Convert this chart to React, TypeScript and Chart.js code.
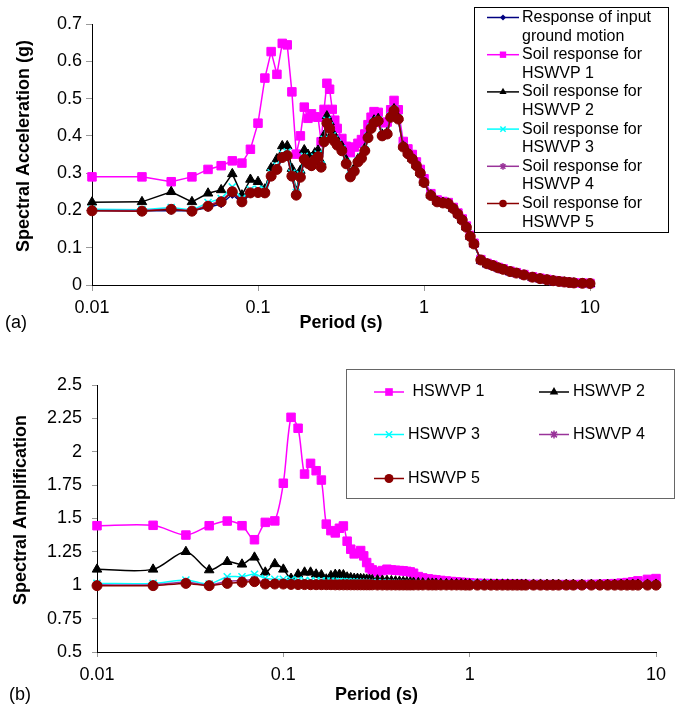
import React, { useEffect, useRef } from 'react';
import { Chart, registerables } from 'chart.js';

Chart.register(...registerables);

const FONT = '"Liberation Sans", Arial, sans-serif';

// ---------- data ----------
const periods = [
  0.01, 0.02, 0.03, 0.04, 0.05, 0.06, 0.07, 0.08, 0.09, 0.1,
  0.11, 0.12, 0.13, 0.14, 0.15, 0.16, 0.17, 0.18, 0.19, 0.2,
  0.21, 0.22, 0.23, 0.24, 0.25, 0.26, 0.27, 0.28, 0.29, 0.3,
  0.32, 0.34, 0.36, 0.38, 0.4, 0.42, 0.44, 0.46, 0.48, 0.5,
  0.53, 0.56, 0.6, 0.63, 0.66, 0.7, 0.75, 0.8, 0.85, 0.9,
  0.95, 1, 1.1, 1.2, 1.3, 1.4, 1.5, 1.6, 1.7, 1.8,
  1.9, 2, 2.2, 2.4, 2.6, 2.8, 3, 3.3, 3.6, 4,
  4.5, 5, 5.5, 6, 6.5, 7, 7.5, 8, 9, 10,
];

// (a) spectral acceleration (g)
const inputMotion = [
  0.2, 0.199, 0.2, 0.199, 0.208, 0.218, 0.243, 0.221, 0.245, 0.246,
  0.245, 0.29, 0.308, 0.34, 0.345, 0.29, 0.24, 0.287, 0.335, 0.324,
  0.318, 0.334, 0.342, 0.314, 0.382, 0.432, 0.418, 0.391, 0.383, 0.373,
  0.358, 0.323, 0.289, 0.303, 0.328, 0.338, 0.358, 0.393, 0.418, 0.433,
  0.438, 0.398, 0.403, 0.448, 0.466, 0.443, 0.368, 0.35, 0.336, 0.318,
  0.298, 0.273, 0.239, 0.222, 0.219, 0.217, 0.204, 0.189, 0.173, 0.154,
  0.129, 0.109, 0.066, 0.056, 0.051, 0.045, 0.041, 0.035, 0.031, 0.026,
  0.02, 0.016, 0.013, 0.011, 0.009, 0.0075, 0.006, 0.005, 0.004, 0.0035,
];
const soilHSWVP1 = [
  0.29, 0.29, 0.277, 0.29, 0.31, 0.32, 0.333, 0.327, 0.364, 0.434,
  0.555, 0.626, 0.565, 0.648, 0.644, 0.518, 0.351, 0.4, 0.477, 0.447,
  0.459, 0.451, 0.45, 0.384, 0.471, 0.541, 0.525, 0.471, 0.442, 0.42,
  0.393, 0.372, 0.355, 0.37, 0.38, 0.39, 0.405, 0.43, 0.45, 0.465,
  0.463, 0.435, 0.437, 0.47, 0.495, 0.47, 0.385, 0.365, 0.35, 0.33,
  0.31, 0.285, 0.245, 0.228, 0.224, 0.221, 0.208, 0.193, 0.177, 0.158,
  0.133, 0.112, 0.068, 0.058, 0.053, 0.047, 0.043, 0.037, 0.033, 0.028,
  0.022, 0.018, 0.015, 0.012, 0.01, 0.0085, 0.007, 0.006, 0.005, 0.0042,
];
const soilHSWVP2 = [
  0.222, 0.223, 0.25, 0.223, 0.246, 0.255, 0.298, 0.241, 0.283, 0.277,
  0.257, 0.314, 0.338, 0.373, 0.373, 0.312, 0.251, 0.307, 0.362, 0.35,
  0.342, 0.354, 0.361, 0.33, 0.401, 0.453, 0.437, 0.408, 0.399, 0.388,
  0.372, 0.335, 0.299, 0.313, 0.338, 0.347, 0.367, 0.402, 0.427, 0.442,
  0.446, 0.404, 0.409, 0.454, 0.472, 0.448, 0.372, 0.354, 0.339, 0.321,
  0.301, 0.275, 0.241, 0.224, 0.221, 0.219, 0.205, 0.19, 0.174, 0.155,
  0.13, 0.11, 0.066, 0.056, 0.051, 0.045, 0.041, 0.035, 0.031, 0.026,
  0.02, 0.016, 0.013, 0.011, 0.009, 0.0075, 0.006, 0.005, 0.004, 0.0035,
];
const soilHSWVP3 = [
  0.203, 0.202, 0.208, 0.201, 0.221, 0.232, 0.263, 0.232, 0.256, 0.257,
  0.255, 0.301, 0.319, 0.352, 0.357, 0.3, 0.248, 0.296, 0.345, 0.333,
  0.327, 0.343, 0.351, 0.322, 0.391, 0.442, 0.427, 0.4, 0.391, 0.38,
  0.365, 0.329, 0.294, 0.308, 0.333, 0.343, 0.363, 0.399, 0.424, 0.439,
  0.443, 0.403, 0.407, 0.453, 0.471, 0.447, 0.372, 0.353, 0.339, 0.321,
  0.3, 0.275, 0.241, 0.224, 0.221, 0.218, 0.205, 0.19, 0.174, 0.155,
  0.13, 0.11, 0.066, 0.056, 0.051, 0.045, 0.041, 0.035, 0.031, 0.026,
  0.02, 0.016, 0.013, 0.011, 0.009, 0.0075, 0.006, 0.005, 0.004, 0.0035,
];
const soilHSWVP4 = [
  0.2, 0.2, 0.204, 0.199, 0.214, 0.226, 0.253, 0.225, 0.249, 0.25,
  0.248, 0.294, 0.312, 0.344, 0.349, 0.293, 0.242, 0.29, 0.338, 0.327,
  0.321, 0.337, 0.345, 0.317, 0.385, 0.435, 0.421, 0.394, 0.386, 0.376,
  0.36, 0.325, 0.291, 0.305, 0.33, 0.34, 0.36, 0.395, 0.42, 0.435,
  0.44, 0.4, 0.405, 0.45, 0.468, 0.445, 0.37, 0.352, 0.338, 0.32,
  0.3, 0.275, 0.24, 0.223, 0.22, 0.218, 0.205, 0.19, 0.174, 0.155,
  0.13, 0.11, 0.067, 0.057, 0.052, 0.046, 0.042, 0.036, 0.032, 0.027,
  0.021, 0.017, 0.014, 0.0115, 0.0095, 0.008, 0.0065, 0.0055, 0.0045, 0.004,
];
const soilHSWVP5 = [
  0.199, 0.198, 0.203, 0.198, 0.211, 0.223, 0.25, 0.223, 0.247, 0.248,
  0.247, 0.292, 0.31, 0.342, 0.347, 0.292, 0.241, 0.289, 0.337, 0.326,
  0.32, 0.336, 0.344, 0.316, 0.384, 0.434, 0.42, 0.393, 0.385, 0.375,
  0.36, 0.325, 0.29, 0.305, 0.33, 0.34, 0.36, 0.395, 0.42, 0.435,
  0.44, 0.4, 0.405, 0.45, 0.468, 0.445, 0.37, 0.352, 0.338, 0.32,
  0.3, 0.275, 0.24, 0.223, 0.22, 0.218, 0.205, 0.19, 0.174, 0.155,
  0.13, 0.11, 0.067, 0.057, 0.052, 0.046, 0.042, 0.036, 0.032, 0.027,
  0.021, 0.017, 0.014, 0.0115, 0.0095, 0.008, 0.0065, 0.0055, 0.0045, 0.004,
];

// (b) spectral amplification
const ampHSWVP1 = [
  1.446, 1.449, 1.376, 1.446, 1.481, 1.446, 1.341, 1.471, 1.482, 1.764,
  2.258, 2.176, 1.833, 1.913, 1.858, 1.788, 1.458, 1.409, 1.392, 1.427,
  1.444, 1.33, 1.27, 1.235, 1.24, 1.26, 1.22, 1.17, 1.13, 1.115,
  1.1, 1.11, 1.12, 1.115, 1.112, 1.11, 1.108, 1.104, 1.1, 1.09,
  1.065, 1.055, 1.048, 1.043, 1.04, 1.036, 1.032, 1.028, 1.025, 1.022,
  1.02, 1.018, 1.015, 1.013, 1.012, 1.011, 1.01, 1.009, 1.008, 1.008,
  1.007, 1.007, 1.006, 1.006, 1.005, 1.005, 1.005, 1.005, 1.005, 1.006,
  1.007, 1.008, 1.01, 1.012, 1.016, 1.02, 1.026, 1.033, 1.044, 1.05,
];
const ampHSWVP2 = [
  1.119, 1.119, 1.251, 1.114, 1.176, 1.157, 1.209, 1.097, 1.16, 1.119,
  1.05, 1.082, 1.097, 1.097, 1.082, 1.077, 1.045, 1.07, 1.08, 1.08,
  1.077, 1.06, 1.055, 1.05, 1.05, 1.048, 1.046, 1.044, 1.042, 1.04,
  1.038, 1.036, 1.034, 1.032, 1.03, 1.028, 1.026, 1.024, 1.022, 1.02,
  1.018, 1.016, 1.015, 1.014, 1.013, 1.012, 1.011, 1.01, 1.01, 1.009,
  1.009, 1.008, 1.008, 1.008, 1.007, 1.007, 1.007, 1.007, 1.006, 1.006,
  1.006, 1.006, 1.006, 1.006, 1.005, 1.005, 1.005, 1.005, 1.005, 1.005,
  1.005, 1.005, 1.005, 1.005, 1.005, 1.006, 1.006, 1.006, 1.006, 1.006,
];
const ampHSWVP3 = [
  1.014, 1.014, 1.039, 1.009, 1.064, 1.064, 1.082, 1.052, 1.045, 1.045,
  1.04, 1.038, 1.036, 1.035, 1.034, 1.033, 1.032, 1.031, 1.03, 1.029,
  1.028, 1.027, 1.026, 1.025, 1.024, 1.023, 1.022, 1.022, 1.021, 1.02,
  1.019, 1.018, 1.017, 1.016, 1.015, 1.015, 1.014, 1.014, 1.013, 1.013,
  1.012, 1.012, 1.011, 1.011, 1.01, 1.01, 1.01, 1.009, 1.009, 1.009,
  1.008, 1.008, 1.008, 1.007, 1.007, 1.007, 1.006, 1.006, 1.006, 1.006,
  1.006, 1.005, 1.005, 1.005, 1.005, 1.005, 1.005, 1.004, 1.004, 1.004,
  1.004, 1.004, 1.004, 1.004, 1.004, 1.005, 1.005, 1.005, 1.006, 1.006,
];
const ampHSWVP4 = [
  1.003, 1.003, 1.022, 1.002, 1.03, 1.035, 1.04, 1.02, 1.018, 1.016,
  1.014, 1.013, 1.012, 1.012, 1.011, 1.011, 1.01, 1.01, 1.01, 1.009,
  1.009, 1.009, 1.008, 1.008, 1.008, 1.008, 1.007, 1.007, 1.007, 1.007,
  1.006, 1.006, 1.006, 1.006, 1.006, 1.005, 1.005, 1.005, 1.005, 1.005,
  1.005, 1.005, 1.004, 1.004, 1.004, 1.004, 1.004, 1.004, 1.004, 1.004,
  1.004, 1.004, 1.003, 1.003, 1.003, 1.003, 1.003, 1.003, 1.003, 1.003,
  1.003, 1.003, 1.003, 1.003, 1.003, 1.003, 1.003, 1.003, 1.003, 1.003,
  1.003, 1.003, 1.003, 1.003, 1.003, 1.003, 1.003, 1.003, 1.003, 1.003,
];
const ampHSWVP5 = [
  0.997, 0.997, 1.014, 0.997, 1.014, 1.022, 1.027, 1.009, 1.009, 1.009,
  1.006, 1.005, 1.005, 1.004, 1.004, 1.004, 1.004, 1.004, 1.003, 1.003,
  1.003, 1.003, 1.003, 1.003, 1.003, 1.003, 1.003, 1.003, 1.003, 1.003,
  1.002, 1.002, 1.002, 1.002, 1.002, 1.002, 1.002, 1.002, 1.002, 1.002,
  1.002, 1.002, 1.002, 1.002, 1.002, 1.002, 1.002, 1.002, 1.002, 1.002,
  1.001, 1.001, 1.001, 1.001, 1.001, 1.001, 1.001, 1.001, 1.001, 1.001,
  1.001, 1.001, 1.001, 1.001, 1.001, 1.001, 1.001, 1.001, 1.001, 1.001,
  1.001, 1.001, 1.001, 1.001, 1.001, 1.001, 1.001, 1.001, 1.001, 1.001,
];

const xTickValues = [0.01, 0.1, 1, 10];

const labelsA = [
  ['Response of input', 'ground motion'],
  ['Soil response for', 'HSWVP 1'],
  ['Soil response for', 'HSWVP 2'],
  ['Soil response for', 'HSWVP 3'],
  ['Soil response for', 'HSWVP 4'],
  ['Soil response for', 'HSWVP 5'],
];
const labelsB = [' HSWVP 1', 'HSWVP 2', 'HSWVP 3', 'HSWVP 4', 'HSWVP 5'];

// ---------- styles ----------
const STYLE_INPUT = { color: '#000080', style: 'rectRot', radius: 4, fill: true };
const STYLES = [
  { color: '#FF00FF', style: 'rect', radius: 6, fill: true },
  { color: '#000000', style: 'triangle', radius: 5.5, fill: true },
  { color: '#00FFFF', style: 'crossRot', radius: 5, fill: false },
  { color: '#993399', style: 'star', radius: 4.5, fill: false },
  { color: '#8B0000', style: 'circle', radius: 5, fill: true },
];

const seriesA = [
  { label: labelsA[0].join(' '), lines: labelsA[0], values: inputMotion, ...STYLE_INPUT },
  { label: labelsA[1].join(' '), lines: labelsA[1], values: soilHSWVP1, ...STYLES[0] },
  { label: labelsA[2].join(' '), lines: labelsA[2], values: soilHSWVP2, ...STYLES[1] },
  { label: labelsA[3].join(' '), lines: labelsA[3], values: soilHSWVP3, ...STYLES[2] },
  { label: labelsA[4].join(' '), lines: labelsA[4], values: soilHSWVP4, ...STYLES[3] },
  { label: labelsA[5].join(' '), lines: labelsA[5], values: soilHSWVP5, ...STYLES[4] },
];
const seriesB = [
  { label: labelsB[0], values: ampHSWVP1, ...STYLES[0] },
  { label: labelsB[1], values: ampHSWVP2, ...STYLES[1] },
  { label: labelsB[2], values: ampHSWVP3, ...STYLES[2] },
  { label: labelsB[3], values: ampHSWVP4, ...STYLES[3] },
  { label: labelsB[4], values: ampHSWVP5, ...STYLES[4] },
];

function makeDatasets(series: any[], tension: number) {
  return series.map((s, i) => ({
    label: s.label,
    data: periods.map((p, k) => ({ x: p, y: s.values[k] })),
    borderColor: s.color,
    backgroundColor: s.color,
    borderWidth: 1.5,
    pointStyle: s.style,
    pointRadius: s.radius,
    pointHoverRadius: s.radius,
    pointBackgroundColor: s.fill ? s.color : 'rgba(0,0,0,0)',
    pointBorderColor: s.color,
    pointBorderWidth: s.fill ? 1 : 1.5,
    tension,
    clip: false,
    order: series.length - i,
  }));
}

function drawMarker(ctx: CanvasRenderingContext2D, style: string, x: number, y: number, r: number, color: string) {
  ctx.save();
  ctx.fillStyle = color;
  ctx.strokeStyle = color;
  ctx.lineWidth = 1.5;
  ctx.beginPath();
  const d = r * Math.SQRT1_2;
  switch (style) {
    case 'rect':
      ctx.rect(x - d, y - d, 2 * d, 2 * d);
      ctx.fill();
      break;
    case 'rectRot':
      ctx.moveTo(x, y - r); ctx.lineTo(x + r, y); ctx.lineTo(x, y + r); ctx.lineTo(x - r, y);
      ctx.closePath(); ctx.fill();
      break;
    case 'circle':
      ctx.arc(x, y, r, 0, Math.PI * 2);
      ctx.fill();
      break;
    case 'triangle': {
      const a = (2 * Math.PI) / 3;
      ctx.moveTo(x, y - r);
      ctx.lineTo(x + Math.sin(a) * r, y - Math.cos(a) * r);
      ctx.lineTo(x + Math.sin(2 * a) * r, y - Math.cos(2 * a) * r);
      ctx.closePath(); ctx.fill();
      break;
    }
    case 'crossRot':
      ctx.moveTo(x - d, y - d); ctx.lineTo(x + d, y + d);
      ctx.moveTo(x - d, y + d); ctx.lineTo(x + d, y - d);
      ctx.stroke();
      break;
    case 'star':
      ctx.moveTo(x - d, y - d); ctx.lineTo(x + d, y + d);
      ctx.moveTo(x - d, y + d); ctx.lineTo(x + d, y - d);
      ctx.moveTo(x, y - r); ctx.lineTo(x, y + r);
      ctx.moveTo(x - r, y); ctx.lineTo(x + r, y);
      ctx.stroke();
      break;
  }
  ctx.restore();
}

function drawSample(ctx: CanvasRenderingContext2D, s: any, x0: number, x1: number, y: number, scale: number) {
  ctx.save();
  ctx.strokeStyle = s.color;
  ctx.lineWidth = 1.5;
  ctx.beginPath();
  ctx.moveTo(x0, y);
  ctx.lineTo(x1, y);
  ctx.stroke();
  ctx.restore();
  drawMarker(ctx, s.style, (x0 + x1) / 2, y, s.radius * scale, s.color);
}

function rotatedText(ctx: CanvasRenderingContext2D, text: string, x: number, y: number) {
  ctx.save();
  ctx.translate(x, y);
  ctx.rotate(-Math.PI / 2);
  ctx.textAlign = 'center';
  ctx.textBaseline = 'middle';
  ctx.font = `bold 18px ${FONT}`;
  ctx.fillStyle = '#000';
  ctx.fillText(text, 0, 0);
  ctx.restore();
}

const decorA = {
  id: 'decorA',
  afterDraw(chart: any) {
    const ctx = chart.ctx as CanvasRenderingContext2D;
    const area = chart.chartArea;
    ctx.save();
    // legend box
    ctx.fillStyle = '#fff';
    ctx.fillRect(474.5, 7.5, 194, 225);
    ctx.strokeStyle = '#000';
    ctx.lineWidth = 1;
    ctx.strokeRect(474.5, 7.5, 194, 225);
    ctx.font = `16px ${FONT}`;
    ctx.textBaseline = 'middle';
    ctx.textAlign = 'left';
    seriesA.forEach((s, i) => {
      const y = 17.5 + i * 37.2;
      drawSample(ctx, s, 487, 519, y, 0.75);
      ctx.fillStyle = '#000';
      s.lines.forEach((t: string, j: number) => ctx.fillText(t, 522, y + j * 18.6));
    });
    // titles
    rotatedText(ctx, 'Spectral Acceleration (g)', 24, 146);
    ctx.fillStyle = '#000';
    ctx.font = `bold 18px ${FONT}`;
    ctx.textAlign = 'center';
    ctx.fillText('Period (s)', (area.left + area.right) / 2, 323);
    ctx.font = `18px ${FONT}`;
    ctx.textAlign = 'left';
    ctx.fillText('(a)', 5, 323);
    ctx.restore();
  },
};

const decorB = {
  id: 'decorB',
  afterDraw(chart: any) {
    const ctx = chart.ctx as CanvasRenderingContext2D;
    const area = chart.chartArea;
    ctx.save();
    ctx.fillStyle = '#fff';
    ctx.fillRect(346.5, 24.5, 328, 129);
    ctx.strokeStyle = '#666';
    ctx.lineWidth = 1;
    ctx.strokeRect(346.5, 24.5, 328, 129);
    ctx.font = `16px ${FONT}`;
    ctx.textBaseline = 'middle';
    ctx.textAlign = 'left';
    const rows = [47, 89.5, 133.5];
    seriesB.forEach((s, i) => {
      const col = i % 2;
      const row = Math.floor(i / 2);
      const x0 = col === 0 ? 374 : 539;
      const y = rows[row];
      drawSample(ctx, s, x0, x0 + 30, y, 0.9);
      ctx.fillStyle = '#000';
      ctx.fillText(s.label, x0 + 34, y);
    });
    rotatedText(ctx, 'Spectral Amplification', 21, 165);
    ctx.fillStyle = '#000';
    ctx.font = `bold 18px ${FONT}`;
    ctx.textAlign = 'center';
    ctx.fillText('Period (s)', (area.left + area.right) / 2, 350);
    ctx.font = `18px ${FONT}`;
    ctx.textAlign = 'left';
    ctx.fillText('(b)', 9, 350);
    ctx.restore();
  },
};

function xScale(height: number, tickLen: number, pad: number) {
  return {
    type: 'logarithmic',
    min: 0.01,
    max: 10,
    afterBuildTicks: (scale: any) => {
      scale.ticks = xTickValues.map((v) => ({ value: v }));
    },
    afterFit: (scale: any) => {
      scale.height = height;
    },
    ticks: {
      callback: (v: any) => String(v),
      font: { family: FONT, size: 18 },
      color: '#000',
      padding: pad,
      autoSkip: false,
      maxRotation: 0,
    },
    grid: { drawOnChartArea: false, drawTicks: true, tickLength: tickLen, color: '#9a9a9a' },
    border: { color: '#000', width: 1 },
  };
}

function yScale(min: number, max: number, step: number, width: number, tickLen: number, pad: number) {
  return {
    type: 'linear',
    min,
    max,
    afterFit: (scale: any) => {
      scale.width = width;
    },
    ticks: {
      stepSize: step,
      callback: (v: any) => String(+Number(v).toFixed(2)),
      font: { family: FONT, size: 18 },
      color: '#000',
      padding: pad,
    },
    grid: { drawOnChartArea: false, drawTicks: true, tickLength: tickLen, color: '#9a9a9a' },
    border: { color: '#000', width: 1 },
  };
}

function baseOptions(padding: any, scales: any) {
  return {
    responsive: false,
    maintainAspectRatio: false,
    animation: false,
    devicePixelRatio: 1,
    events: [],
    layout: { padding },
    plugins: { legend: { display: false }, tooltip: { enabled: false } },
    scales,
  };
}

export default function App() {
  const refA = useRef<HTMLCanvasElement | null>(null);
  const refB = useRef<HTMLCanvasElement | null>(null);

  useEffect(() => {
    const chartA = new Chart(refA.current as HTMLCanvasElement, {
      type: 'line',
      data: { datasets: makeDatasets(seriesA, 0) as any },
      options: baseOptions(
        { left: 0, right: 91, top: 24, bottom: 0 },
        { x: xScale(60, 6, 6), y: yScale(0, 0.7, 0.1, 92, 6, 4) }
      ) as any,
      plugins: [decorA],
    });
    const chartB = new Chart(refB.current as HTMLCanvasElement, {
      type: 'line',
      data: { datasets: makeDatasets(seriesB, 0.3) as any },
      options: baseOptions(
        { left: 0, right: 25, top: 40, bottom: 0 },
        { x: xScale(58, 5, 7), y: yScale(0.5, 2.5, 0.25, 97, 5, 10) }
      ) as any,
      plugins: [decorB],
    });
    return () => {
      chartA.destroy();
      chartB.destroy();
    };
  }, []);

  return (
    <div style={{ position: 'absolute', left: 0, top: 0, width: 681, height: 710, background: '#fff' }}>
      <canvas
        ref={refA}
        width={681}
        height={345}
        style={{ position: 'absolute', left: 0, top: 0, width: 681, height: 345 }}
      />
      <canvas
        ref={refB}
        width={681}
        height={365}
        style={{ position: 'absolute', left: 0, top: 345, width: 681, height: 365 }}
      />
    </div>
  );
}
